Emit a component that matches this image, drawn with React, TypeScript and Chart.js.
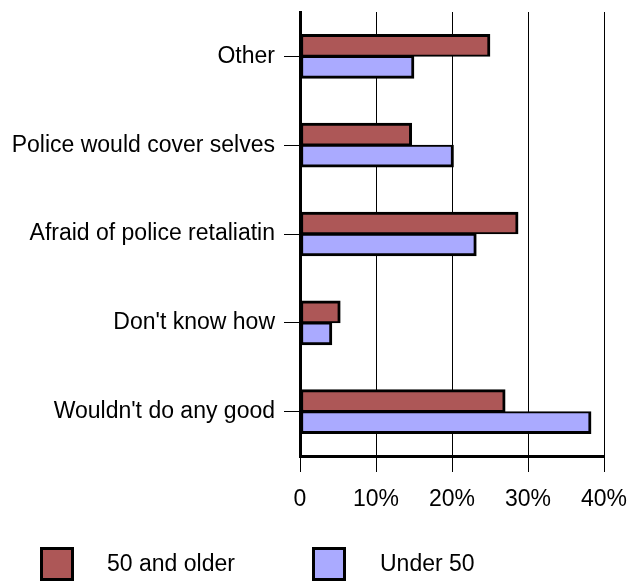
import React, { useEffect, useRef } from "react";
import { Chart, registerables } from "chart.js";

Chart.register(...registerables);

const categories = [
  "Other",
  "Police would cover selves",
  "Afraid of police retaliatin",
  "Don't know how",
  "Wouldn't do any good",
];
const olderValues = [25.0, 14.7, 28.7, 5.3, 27.0];
const underValues = [15.0, 20.2, 23.2, 4.2, 38.3];
const seriesNames = ["50 and older", "Under 50"];
const xTicks = [0, 10, 20, 30, 40];

const RED = "#AD5757";
const BLUE = "#AAAAFF";
const FONT = "'Liberation Sans', Arial, sans-serif";

export default function App() {
  const ref = useRef<HTMLCanvasElement | null>(null);

  useEffect(() => {
    if (!ref.current) return;
    const chart = new Chart(ref.current, {
      type: "bar",
      data: {
        labels: categories,
        datasets: [
          {
            label: seriesNames[0],
            data: olderValues,
            backgroundColor: RED,
            borderColor: "#000",
            borderWidth: { top: 3, left: 3, right: 3, bottom: 2 },
            borderSkipped: false,
            barThickness: 22,
          },
          {
            label: seriesNames[1],
            data: underValues,
            backgroundColor: BLUE,
            borderColor: "#000",
            borderWidth: { top: 2, left: 3, right: 3, bottom: 3 },
            borderSkipped: false,
            barThickness: 22,
          },
        ],
      },
      options: {
        indexAxis: "y",
        responsive: false,
        animation: false,
        devicePixelRatio: 1,
        layout: { padding: { top: 12, right: 24, left: 0, bottom: 0 } },
        plugins: {
          legend: { display: false },
          tooltip: { enabled: false },
        },
        scales: {
          x: {
            min: xTicks[0],
            max: xTicks[xTicks.length - 1],
            afterFit: (s: any) => {
              s.height = 125;
              s.paddingLeft = 0;
              s.paddingRight = 0;
            },
            afterBuildTicks: (s: any) => {
              s.ticks = xTicks.map((v) => ({ value: v }));
            },
            grid: {
              color: "#000",
              lineWidth: 1,
              tickLength: 16,
              drawOnChartArea: true,
            },
            border: { display: true, color: "#000", width: 3 },
            ticks: {
              color: "#000",
              padding: 14,
              font: { family: FONT, size: 23 },
              callback: (v: any) => (Number(v) === 0 ? "0" : v + "%"),
            },
          },
          y: {
            afterFit: (s: any) => {
              s.width = 300;
              s.paddingTop = 0;
              s.paddingBottom = 0;
            },
            grid: {
              offset: false,
              drawOnChartArea: false,
              color: "#000",
              lineWidth: 1,
              tickLength: 16,
            },
            border: { display: true, color: "#000", width: 3 },
            ticks: {
              color: "#000",
              padding: 9,
              font: { family: FONT, size: 23 },
            },
          },
        },
      },
    });
    return () => chart.destroy();
  }, []);

  const legendText: React.CSSProperties = {
    position: "absolute",
    top: 563,
    transform: "translateY(-50%)",
    fontFamily: FONT,
    fontSize: 23,
    color: "#000",
    whiteSpace: "nowrap",
    lineHeight: 1,
  };
  const box = (left: number, color: string): React.CSSProperties => ({
    position: "absolute",
    left,
    top: 547,
    width: 34,
    height: 34,
    boxSizing: "border-box",
    border: "3px solid #000",
    background: color,
  });

  return (
    <div
      style={{
        position: "fixed",
        left: 0,
        top: 0,
        width: 628,
        height: 581,
        background: "#fff",
        overflow: "hidden",
      }}
    >
      <canvas ref={ref} width={628} height={581} style={{ display: "block" }} />
      <div style={box(40, RED)} />
      <div style={{ ...legendText, left: 107 }}>{seriesNames[0]}</div>
      <div style={box(312, BLUE)} />
      <div style={{ ...legendText, left: 380 }}>{seriesNames[1]}</div>
    </div>
  );
}
